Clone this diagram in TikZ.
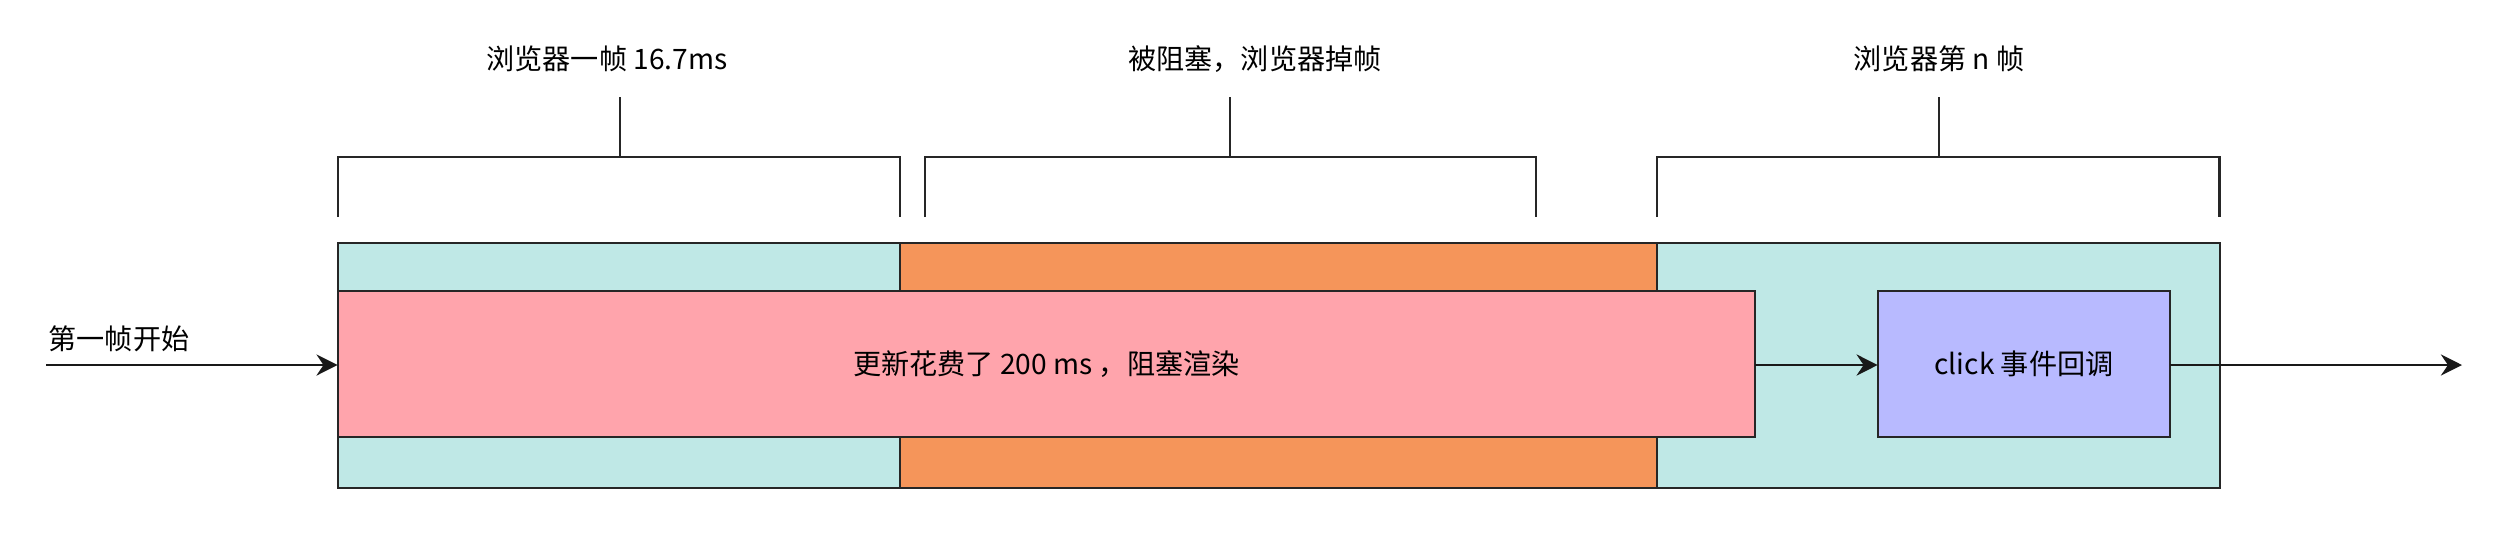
\documentclass[tikz,border=0pt]{standalone}
\usepackage{fontspec}
\setmainfont{Noto Sans CJK SC}
\usetikzlibrary{arrows.meta}

\definecolor{frameok}{HTML}{BFE8E6}
\definecolor{frameblock}{HTML}{F5955A}
\definecolor{taskpink}{HTML}{FFA4AC}
\definecolor{taskblue}{HTML}{B8BAFF}

\tikzset{
  slot/.style={draw=black!85,semithick,minimum height=2.45cm,outer sep=0pt,inner sep=0pt},
  task/.style={draw=black!85,semithick,minimum height=1.46cm,outer sep=0pt,inner sep=0pt},
  flow/.style={-{Stealth[length=6pt,width=6pt,inset=2pt]},thick,black!90},
  brace/.style={semithick,black!85},
  txt/.style={font=\fontsize{8}{10}\selectfont,inner sep=0pt}
}

\begin{document}
\begin{tikzpicture}[x=0.01cm,y=-0.01cm]
            \useasboundingbox (0,0) rectangle (2512,532);

            \coordinate (START) at (46, 365);
            \coordinate (END) at (2462, 365);

            \node[slot,fill=frameok,minimum width=5.62cm] (F1) at (619, 365.5) {};
            \node[slot,fill=frameblock,minimum width=7.57cm] (F2) at (1278.5, 365.5) {};
            \node[slot,fill=frameok,minimum width=5.625cm] (F3) at (1938.25, 365.5) {};

            \node[task,fill=taskpink,minimum width=14.17cm,txt] (UPD) at (1046.5, 364) {更新花费了 200 ms ，阻塞渲染};
            \node[task,fill=taskblue,minimum width=2.925cm,txt] (CLK) at (2024, 364) {click 事件回调};

            \node[txt,anchor=west] (BEGIN) at (48, 339) {第一帧开始};

            \draw[flow] (START) -- (START -| UPD.west);
            \draw[flow] (UPD.east |- START) -- (CLK.west |- START);
            \draw[flow] (CLK.east |- END) -- (END);

            % brackets over the frames
            \foreach \l/\r/\s/\name in {338/900/620/B1, 925/1536/1230/B2, 1657/2219.5/1939/B3} {
                \draw[brace] (\l, 217) -- (\l, 157) -- (\r, 157) -- (\r, 217);
                \draw[brace] (\s, 157) -- (\s, 97);
            }

            \node[txt] (L1) at (607, 59) {浏览器一帧 16.7ms};
            \node[txt] (L2) at (1255, 59) {被阻塞，浏览器掉帧};
            \node[txt] (L3) at (1939, 59) {浏览器第 n 帧};

        \end{tikzpicture}
\end{document}
